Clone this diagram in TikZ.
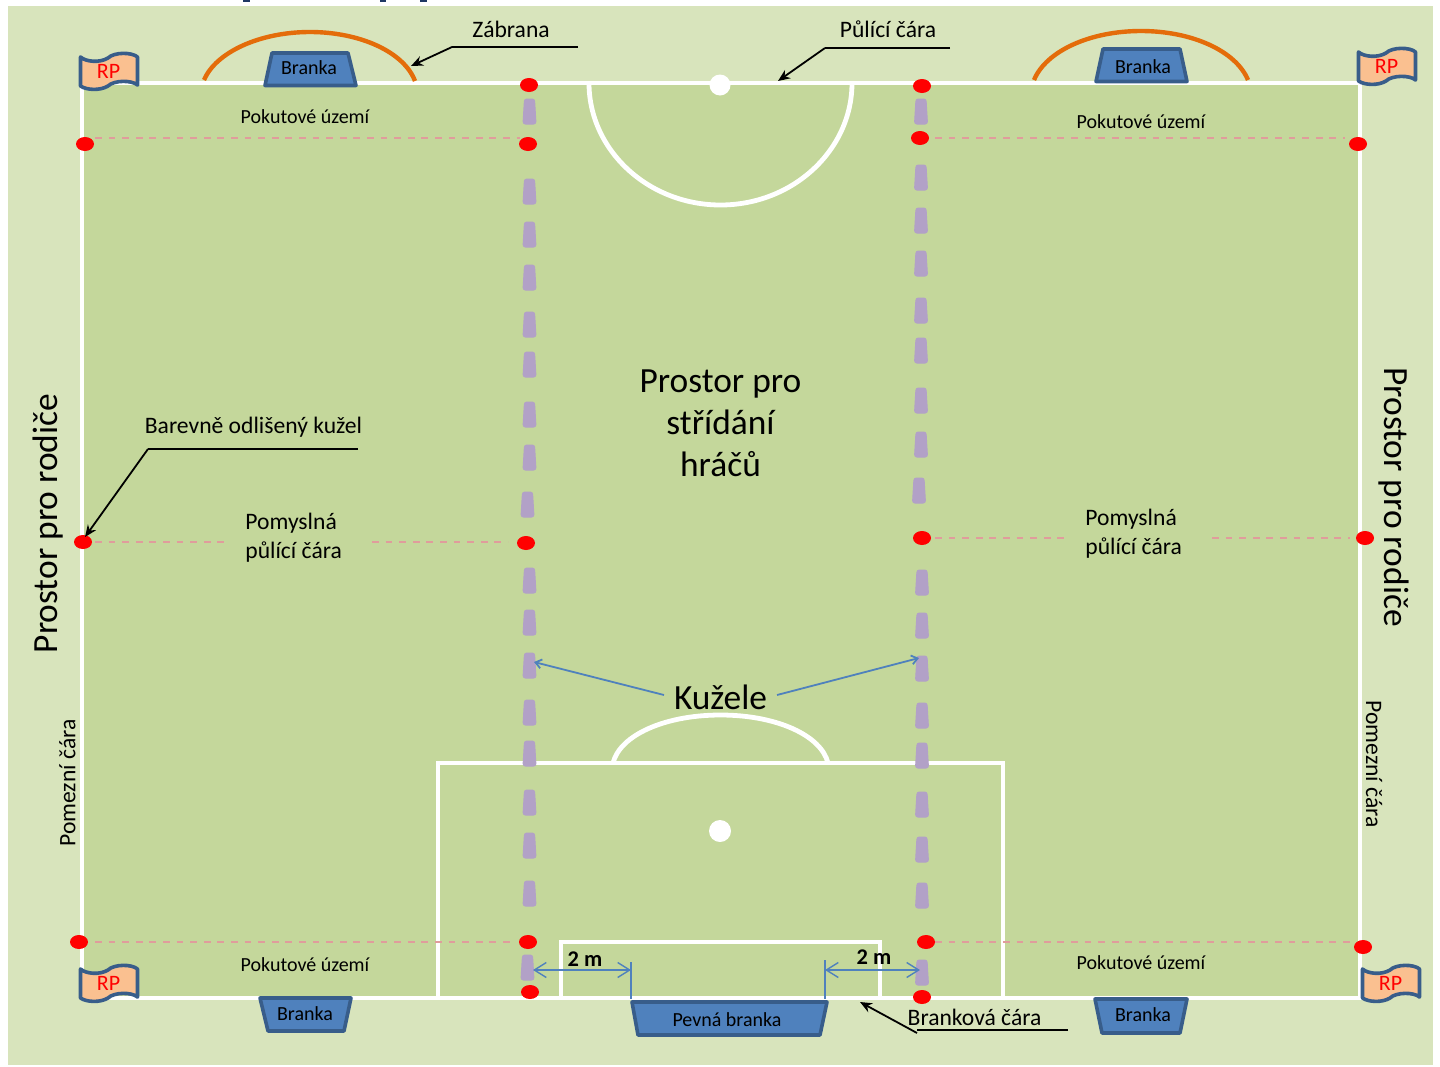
\documentclass[tikz,border=0pt]{standalone}
\usepackage{fontspec}
\setmainfont{Carlito}
\usetikzlibrary{arrows.meta}
\definecolor{bgc}{HTML}{D8E4BC}
\definecolor{fieldc}{HTML}{C4D79B}
\definecolor{conec}{HTML}{B2A1C7}
\definecolor{navyc}{HTML}{385D8A}
\definecolor{bluec}{HTML}{4F81BD}
\definecolor{flagc}{HTML}{FAC090}
\definecolor{orangec}{HTML}{E46C0A}
\definecolor{dashc}{HTML}{E09C9C}
\definecolor{linkc}{HTML}{1F3864}
\tikzset{
  x=0.5pt,y=-0.5pt,
  fieldline/.style={draw=white,line width=2.4pt},
  orangearc/.style={draw=orangec,line width=2.2pt},
  conepath/.style={fill=conec,draw=conec,line width=0.5pt,rounded corners=1.2pt},
  penline/.style={draw=dashc,line width=1.2pt,dash pattern=on 3.4pt off 3.4pt},
  goalshape/.style={fill=bluec,draw=navyc,line width=1.8pt,line join=round},
  flagshape/.style={fill=flagc,draw=navyc,line width=1.8pt,line join=round,line cap=round},
  small/.style={font=\fontsize{10}{12}\selectfont,inner sep=0pt,text=black},
  medium/.style={font=\fontsize{11.8}{14.5}\selectfont,inner sep=0pt,text=black},
  big/.style={font=\fontsize{17.7}{21}\selectfont,inner sep=0pt,text=black},
  dimlabel/.style={font=\bfseries\fontsize{11.2}{13}\selectfont,inner sep=0pt,text=black},
  rptext/.style={font=\fontsize{11}{13}\selectfont,inner sep=0pt,text=red},
  leader/.style={draw=black,line width=0.6pt},
  leadarrow/.style={draw=black,line width=0.9pt,-{Stealth[length=6pt,width=5pt]}},
  bluearrow/.style={draw=bluec,line width=0.9pt,-{Straight Barb[length=3pt,width=4.5pt]}},
  dimarrow/.style={draw=bluec,line width=0.7pt,{Straight Barb[length=6pt,width=7.5pt]}-{Straight Barb[length=6pt,width=7.5pt]}},
  dimtick/.style={draw=bluec,line width=0.7pt},
}
\newcommand{\onecone}[2]{\fill[conepath] (#1-5,#2) -- (#1+5,#2) -- (#1+6.5,#2+25) -- (#1-6.5,#2+25) -- cycle;}
\newcommand{\onedot}[2]{\fill[red] (#1,#2) ellipse[x radius=9,y radius=7];}
\newcommand{\rpflag}[3]{%
  \begin{scope}[shift={(#1,#2)}]
    \draw[flagshape] (80.5,57) .. controls (86,62) and (100,63) .. (108,58)
      .. controls (114,52) and (132,52) .. (137.5,57) -- (137.5,85)
      .. controls (132,80) and (114,80) .. (108,86)
      .. controls (100,91) and (86,90) .. (80.5,86) -- cycle;
    \node[rptext] (#3) at (108.5,71.5) {RP};
  \end{scope}}
\begin{document}
\begin{tikzpicture}
\useasboundingbox (0,0) rectangle (1440,1066);
\fill[white] (0,0) rectangle (1440,1066);
% clipped remains at the top edge
\fill[linkc] (243,0) rectangle (250,1.5);
\fill[linkc] (380,0) rectangle (386,1.5);
\fill[linkc] (420,0) rectangle (427,1.5);
\fill[bgc] (8,6) rectangle (1433,1065);
% field
\fill[fieldc] (82,83) rectangle (1360,998);
\draw[fieldline] (82,83) rectangle (1360,998);
\draw[fieldline] (589,83) .. controls (589,150) and (648,205) .. (720.5,205) .. controls (793,205) and (852,150) .. (852,83);
\fill[white] (720,85) circle (10.5);
\fill[white] (720,831) circle (11);
\draw[fieldline] (438,998) -- (438,763) -- (1003,763) -- (1003,998);
\draw[fieldline] (613,763) .. controls (620,735) and (665,715) .. (720.5,715) .. controls (776,715) and (821,735) .. (828,763);
\draw[fieldline] (561,998) -- (561,942) -- (880,942) -- (880,998);
% penalty lines
\draw[penline] (95,138) -- (520,138);
\draw[penline] (935,138) -- (1345,138);
\draw[penline] (95,542) -- (225,542);
\draw[penline] (372,542) -- (508,542);
\draw[penline] (935,538) -- (1065,538);
\draw[penline] (1212,538) -- (1350,538);
\draw[penline] (95,942) -- (515,942);
\draw[penline] (935,942) -- (1352,942);
% cones
\foreach \y in {99,179,222,265,312,352,402,445,568,610,653,700,741,790,833,881}{\onecone{529.5}{\y}}
\onecone{527.5}{492}
\onecone{527.5}{955}
\foreach \y in {99,165,208,251,298,338,388,432}{\onecone{921}{\y}}
\onecone{919}{478}
\foreach \y in {570,613,656,703,743,792,837,883,960}{\onecone{922}{\y}}
% red cones
\foreach \a/\b in {529/85,922/86,920/138,528/144,85/144,1358/144,83/542,526/543,922/538,1365/538,79/942,528/942,926/942,1363/947,530/992,922/997}{\onedot{\a}{\b}}
% barriers
\draw[orangearc] (204,80) .. controls (216,52) and (260,32) .. (310,32) .. controls (360,32) and (404,52) .. (415,81);
\draw[orangearc] (1034,80) .. controls (1046,51) and (1090,31) .. (1141,31) .. controls (1192,31) and (1236,51) .. (1248,80);
% goals
\draw[goalshape] (272,53) -- (348,53) -- (356,85.5) -- (265,85.5) -- cycle;
\node[small] (g1) at (309,68) {Branka};
\draw[goalshape] (1103,49) -- (1180,49) -- (1187,81.5) -- (1096,81.5) -- cycle;
\node[small] (g2) at (1143,67) {Branka};
\draw[goalshape] (260,998) -- (351,998) -- (344,1031) -- (268,1031) -- cycle;
\node[small] (g3) at (305,1014) {Branka};
\draw[goalshape] (1095,999) -- (1187,999) -- (1180,1033) -- (1102,1033) -- cycle;
\node[small] (g4) at (1143,1015) {Branka};
\draw[goalshape] (632,1002) -- (827,1002) -- (820,1035) -- (638,1035) -- cycle;
\node[small] (g5) at (727,1020) {Pevná branka};
% flags
\rpflag{0}{0}{rp1}
\rpflag{1278}{-5}{rp2}
\rpflag{0}{912}{rp3}
\rpflag{1282}{912}{rp4}
% labels
\node[small] (p1) at (305,116.5) {Pokutové území};
\node[small] (p2) at (1141,121.5) {Pokutové území};
\node[small] (p3) at (305,964.5) {Pokutové území};
\node[small] (p4) at (1141,962.5) {Pokutové území};
\node[medium,align=left,anchor=west] (m1) at (245,537.5) {Pomyslná\\půlící čára};
\node[medium,align=left,anchor=west] (m2) at (1085,533.5) {Pomyslná\\půlící čára};
\node[big,align=center] (mid) at (720.5,423.5) {Prostor pro\\střídání\\hráčů};
\node[big] (kuz) at (720.5,697) {Kužele};
\node[big,rotate=90] (par1) at (48.5,523.5) {Prostor pro rodiče};
\node[big,rotate=-90] (par2) at (1393.5,497) {Prostor pro rodiče};
\node[medium,rotate=90] (pom1) at (67.5,783) {Pomezní čára};
\node[medium,rotate=-90] (pom2) at (1374,764) {Pomezní čára};
\node[medium] (zab) at (511,29.5) {Zábrana};
\node[medium] (pul) at (888,29.5) {Půlící čára};
\node[medium] (bar) at (253.5,427.5) {Barevně odlišený kužel};
\node[medium] (bra) at (974.5,1017.5) {Branková čára};
\node[dimlabel] (d1) at (585,959.5) {2 m};
\node[dimlabel] (d2) at (874,957.5) {2 m};
% leader coordinates
\coordinate (zabA) at (578,47); \coordinate (zabB) at (452,47); \coordinate (zabT) at (411,66);
\coordinate (pulA) at (950,48); \coordinate (pulB) at (825,48); \coordinate (pulT) at (778,81);
\coordinate (barA) at (358,449); \coordinate (barB) at (148,449); \coordinate (barT) at (85,537);
\coordinate (braA) at (1068,1030); \coordinate (braB) at (917,1030); \coordinate (braS) at (917,1033); \coordinate (braT) at (860,1002);
\coordinate (kuzL) at (664,695); \coordinate (kuzR) at (777,695); \coordinate (coneL) at (534,662); \coordinate (coneR) at (919,658);
\coordinate (dL) at (533,970); \coordinate (dLb) at (631,970); \coordinate (dRb) at (825,970); \coordinate (dR) at (920,970);
\coordinate (t1a) at (631,962); \coordinate (t1b) at (631,999); \coordinate (t2a) at (825,960); \coordinate (t2b) at (825,999);
\draw[leader] (zabA) -- (zabB); \draw[leadarrow] (zabB) -- (zabT);
\draw[leader] (pulA) -- (pulB); \draw[leadarrow] (pulB) -- (pulT);
\draw[leader] (barA) -- (barB); \draw[leadarrow] (barB) -- (barT);
\draw[leader] (braA) -- (braB); \draw[leadarrow] (braS) -- (braT);
\draw[bluearrow] (kuzL) -- (coneL);
\draw[bluearrow] (kuzR) -- (coneR);
\draw[dimarrow] (dL) -- (dLb);
\draw[dimarrow] (dRb) -- (dR);
\draw[dimtick] (t1a) -- (t1b);
\draw[dimtick] (t2a) -- (t2b);
\end{tikzpicture}
\end{document}
